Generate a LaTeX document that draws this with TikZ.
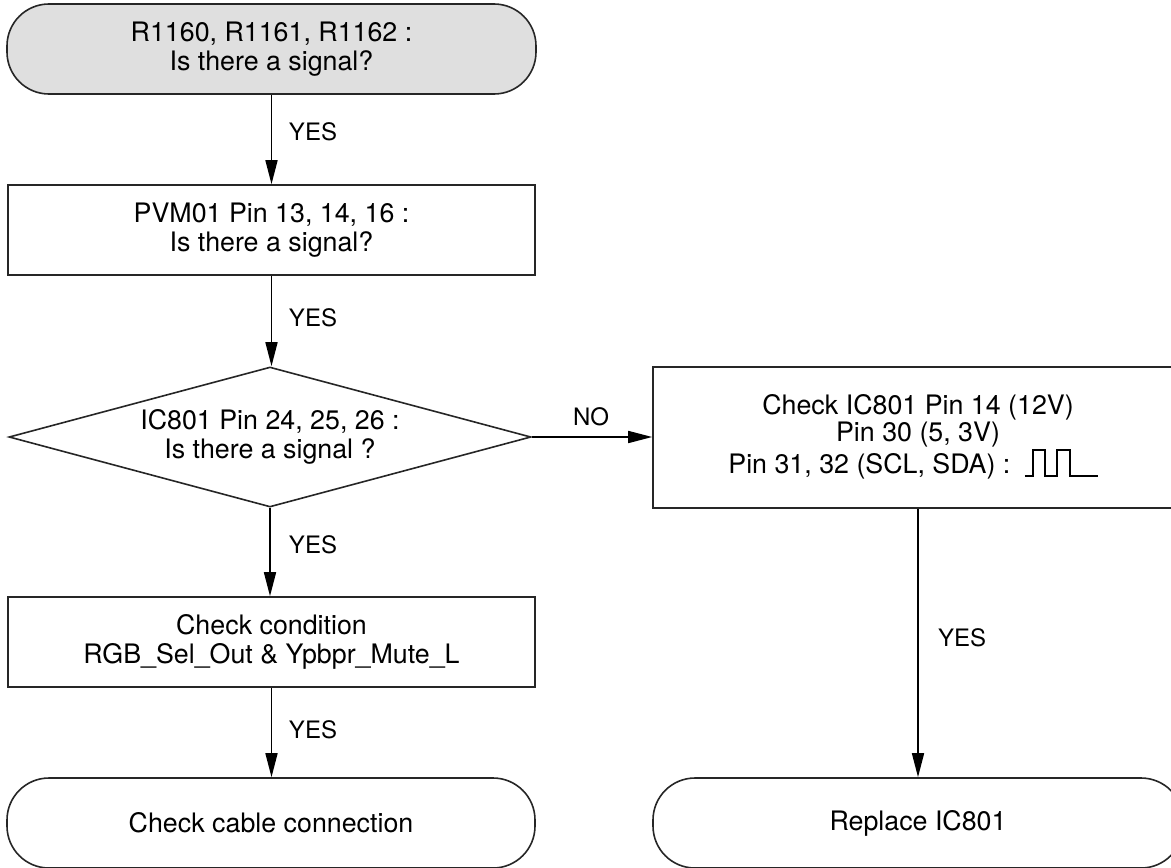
\documentclass[tikz,border=0pt]{standalone}
\usepackage{fontspec}
\setmainfont{TeX Gyre Heros}
\usetikzlibrary{shapes.geometric,arrows.meta}
\begin{document}
\begin{tikzpicture}[x=0.5pt,y=-0.5pt,
  base/.style={draw=black!85, line width=0.8pt, inner sep=0pt, align=center, font=\fontsize{13.4}{14.2}\selectfont},
  procbox/.style={base, rectangle},
  term/.style={base, rectangle, rounded corners=21pt},
  txt/.style={inner sep=0pt, align=center, font=\fontsize{13.4}{14.2}\selectfont},
  lbl/.style={inner sep=0pt, font=\fontsize{12}{14}\selectfont},
  flow/.style={draw=black, line width=0.8pt, -{Triangle[length=12pt,width=6pt]}}]
\useasboundingbox (0,0) rectangle (1171,867);
\clip (0,0) rectangle (1171,867);
\node[term, fill=gray!25, minimum width=264.5pt, minimum height=45pt] (t1) at (271.5,49) {R1160, R1161, R1162 :\\Is there a signal?};
\node[procbox, minimum width=263.5pt, minimum height=45pt] (b1) at (271.5,230) {PVM01 Pin 13, 14, 16 :\\Is there a signal?};
\node[diamond, draw=black!85, line width=0.8pt, minimum width=261pt, minimum height=70pt, inner sep=0pt] (d1) at (270,437) {};
\node[txt] (d1t) at (d1.center) {IC801 Pin 24, 25, 26 :\\Is there a signal ?};
\node[procbox, minimum width=265pt, minimum height=70.5pt] (b2) at (918,437.5) {};
\node[txt] (b2a) at (918,407) {Check IC801 Pin 14 (12V)};
\node[txt] (b2b) at (918,435) {Pin 30 (5, 3V)};
\node[txt, anchor=base west] (b2c) at (728,473) {Pin 31, 32 (SCL, SDA) :};
\coordinate (w0) at ([xshift=7pt, yshift=-1.5pt]b2c.base east);
\draw[line width=0.8pt] (w0) -- ++(8,0) -- ++(0,-26) -- ++(12,0) -- ++(0,26) -- ++(12,0) -- ++(0,-26) -- ++(13,0) -- ++(0,26) -- ++(28,0);
\node[procbox, minimum width=263.5pt, minimum height=45pt] (b3) at (271.5,642) {Check condition\\RGB\_Sel\_Out \& Ypbpr\_Mute\_L};
\node[term, minimum width=264pt, minimum height=45pt] (t2) at (271,823) {Check cable connection};
\node[term, minimum width=265pt, minimum height=45pt] (t3) at (918,823) {Replace IC801};
\draw[flow] (t1.south) -- (t1.south |- b1.north);
\draw[flow] (b1.south) -- (b1.south |- d1.north);
\draw[flow] (d1.south) -- (d1.south |- b3.north);
\draw[flow] (b3.south) -- (b3.south |- t2.north);
\draw[flow] (d1.east) -- (d1.east -| b2.west);
\draw[flow] (b2.south) -- (b2.south |- t3.north);
\node[lbl] (y1) at (313,132) {YES};
\node[lbl] (y2) at (313,318) {YES};
\node[lbl] (y3) at (313,545) {YES};
\node[lbl] (y4) at (313,730) {YES};
\node[lbl] (y5) at (962,638) {YES};
\node[lbl] (n1) at (591,417) {NO};
\end{tikzpicture}
\end{document}
